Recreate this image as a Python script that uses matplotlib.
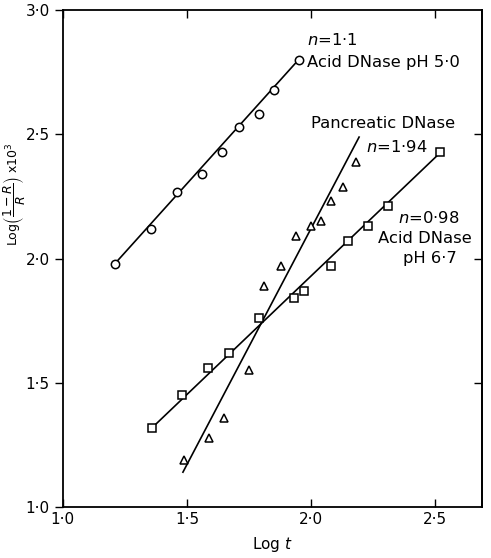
import matplotlib
matplotlib.use('Agg')
import matplotlib.pyplot as plt

# Acid DNase pH 5.0 (circles)
x_acid5 = [1.21, 1.355, 1.46, 1.56, 1.64, 1.71, 1.79, 1.85, 1.95]
y_acid5 = [1.98, 2.12, 2.27, 2.34, 2.43, 2.53, 2.58, 2.68, 2.80]

# Acid DNase pH 6.7 (squares)
x_acid67 = [1.36, 1.48, 1.585, 1.67, 1.79, 1.93, 1.97, 2.08, 2.15, 2.23, 2.31, 2.52]
y_acid67 = [1.32, 1.45, 1.56, 1.62, 1.76, 1.84, 1.87, 1.97, 2.07, 2.13, 2.21, 2.43]

# Pancreatic DNase (triangles)
x_panc = [1.49, 1.59, 1.65, 1.75, 1.81, 1.88, 1.94, 2.00, 2.04, 2.08, 2.13, 2.18]
y_panc = [1.19, 1.28, 1.36, 1.55, 1.89, 1.97, 2.09, 2.13, 2.15, 2.23, 2.29, 2.39]

# fitted lines (end points)
fit_acid5 = ([1.21, 1.95], [1.98, 2.80])
fit_acid67 = ([1.36, 2.525], [1.32, 2.43])
fit_panc = ([1.484, 2.194], [1.141, 2.489])

ticks = [1.0, 1.5, 2.0, 2.5]
yticks = [1.0, 1.5, 2.0, 2.5, 3.0]
tick_labels = ['1·0', '1·5', '2·0', '2·5']
ytick_labels = ['1·0', '1·5', '2·0', '2·5', '3·0']

plt.rcParams['font.family'] = 'DejaVu Sans'
plt.rcParams['mathtext.fontset'] = 'dejavusans'

fig = plt.figure(figsize=(4.91, 5.58), dpi=100)
ax = fig.add_axes([0.128, 0.091, 0.854, 0.891])

ax.plot(*fit_acid5, color='black', lw=1.2)
ax.plot(*fit_acid67, color='black', lw=1.2)
ax.plot(*fit_panc, color='black', lw=1.2)

ax.plot(x_acid5, y_acid5, 'o', ms=6, mfc='white', mec='black', mew=1.1)
ax.plot(x_acid67, y_acid67, 's', ms=5.5, mfc='white', mec='black', mew=1.1)
ax.plot(x_panc, y_panc, '^', ms=5.5, mfc='white', mec='black', mew=1.1)

ax.set_xlim(1.0, 2.69)
ax.set_ylim(1.0, 3.0)
ax.set_xticks(ticks)
ax.set_xticklabels(tick_labels, fontsize=11)
ax.set_yticks(yticks)
ax.set_yticklabels(ytick_labels, fontsize=11)
ax.tick_params(axis='x', direction='in', top=True, length=6, width=1)
ax.tick_params(axis='y', direction='out', length=6, width=1)

# inward ticks on the right side
ax_r = ax.secondary_yaxis('right')
ax_r.set_yticks(yticks[1:-1])
ax_r.tick_params(direction='in', length=6, width=1, labelright=False)

for s in ax.spines.values():
    s.set_linewidth(1.3)
ax_r.spines['right'].set_linewidth(1.3)

ax.set_xlabel('Log $\\it{t}$', fontsize=11, labelpad=6)
ax.set_ylabel('Log$\\left(\\dfrac{1-R}{R}\\right)$ x10$^3$', fontsize=9)
ax.yaxis.set_label_coords(-0.086, 0.63)

fs = 11.8
ax.text(1.984, 2.88, '$\\it{n}$=1·1', fontsize=fs, ha='left', va='center')
ax.text(1.984, 2.787, 'Acid DNase pH 5·0', fontsize=fs, ha='left', va='center')
ax.text(2.0, 2.545, 'Pancreatic DNase', fontsize=fs, ha='left', va='center')
ax.text(2.22, 2.45, '$\\it{n}$=1·94', fontsize=fs, ha='left', va='center')
ax.text(2.60, 2.163, '$\\it{n}$=0·98', fontsize=fs, ha='right', va='center')
ax.text(2.649, 2.083, 'Acid DNase', fontsize=fs, ha='right', va='center')
ax.text(2.589, 2.002, 'pH 6·7', fontsize=fs, ha='right', va='center')

fig.savefig('out.png', dpi=100)
